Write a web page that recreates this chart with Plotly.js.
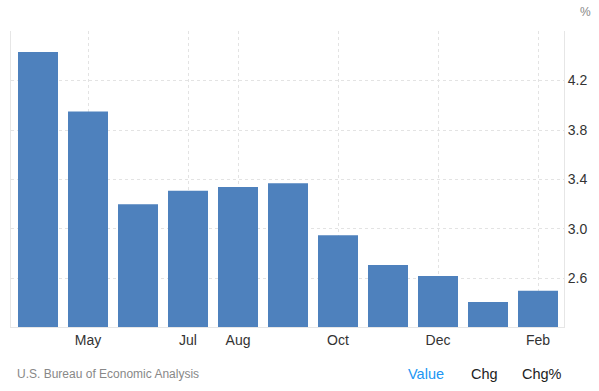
<!DOCTYPE html>
<html><head><meta charset="utf-8">
<script src="https://cdn.plot.ly/plotly-3.0.1.min.js"></script>
<style>html,body{margin:0;padding:0;background:#fff}#chart{width:599px;height:391px}</style>
</head><body><div id="chart"></div>
<script>
var months = ["Apr","May","Jun","Jul","Aug","Sep","Oct","Nov","Dec","Jan","Feb"];
var values = [4.43, 3.95, 3.20, 3.31, 3.34, 3.37, 2.95, 2.71, 2.62, 2.41, 2.50];
var tickLabels = ["May","Jul","Aug","Oct","Dec","Feb"];
var yTicks = [2.6, 3.0, 3.4, 3.8, 4.2, 4.6];
var yTickText = ["2.6","3.0","3.4","3.8","4.2",""];

var trace = {
  type:"bar", x:months, y:values, hoverinfo:"x+y",
  marker:{color:"#4e81bd"}, width:0.8
};
var layout = {
  width:599, height:391,
  margin:{l:11, r:35, t:31, b:64},
  paper_bgcolor:"#fff", plot_bgcolor:"#fff",
  font:{family:"Liberation Sans, Arial, sans-serif", color:"#333", size:13},
  showlegend:false,
  xaxis:{type:"category", range:[-0.54,10.52], tickvals:tickLabels, ticktext:tickLabels,
    showgrid:true, gridcolor:"#e3e3e3", griddash:"dot", gridwidth:1,
    showline:true, linecolor:"#e6e6e6", linewidth:1, ticks:"", zeroline:false,
    tickfont:{size:14, color:"#333"}},
  yaxis:{side:"right", range:[2.208,4.6], tickvals:yTicks, ticktext:yTickText,
    showgrid:true, gridcolor:"#e3e3e3", griddash:"dot", gridwidth:1,
    showline:true, mirror:true, linecolor:"#e6e6e6", linewidth:1, ticks:"", zeroline:false,
    tickfont:{size:14, color:"#333"}},
  annotations:[
    {text:"%", xref:"paper", yref:"paper", x:(585-11)/553, y:1.064, xanchor:"center", yanchor:"middle", showarrow:false, font:{size:12, color:"#888"}},
    {text:"U.S. Bureau of Economic Analysis", xref:"paper", yref:"paper", x:(15-11)/553, y:-0.159, xanchor:"left", yanchor:"middle", showarrow:false, font:{size:12, color:"#888"}},
    {text:"Value", xref:"paper", yref:"paper", x:(425.5-11)/553, y:-0.159, xanchor:"center", yanchor:"middle", showarrow:false, font:{size:14.5, color:"#2196f3"}},
    {text:"Chg", xref:"paper", yref:"paper", x:(484-11)/553, y:-0.159, xanchor:"center", yanchor:"middle", showarrow:false, font:{size:14.5, color:"#222"}},
    {text:"Chg%", xref:"paper", yref:"paper", x:(541.5-11)/553, y:-0.159, xanchor:"center", yanchor:"middle", showarrow:false, font:{size:14.5, color:"#222"}}
  ]
};
Plotly.newPlot("chart",[trace],layout,{displayModeBar:false, staticPlot:true});
</script></body></html>
